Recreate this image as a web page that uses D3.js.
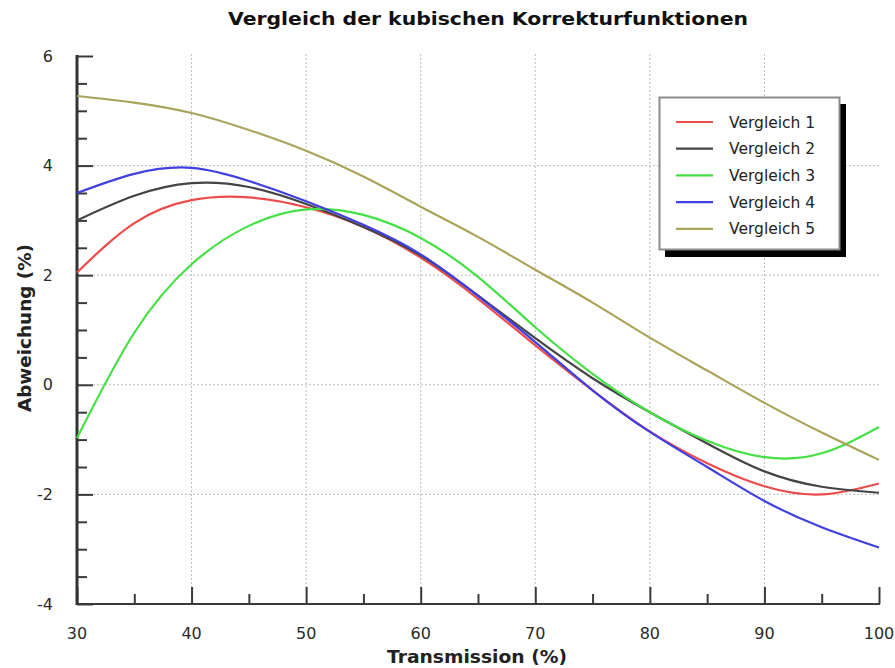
<!DOCTYPE html>
<html><head><meta charset="utf-8">
<script src="https://cdn.jsdelivr.net/npm/d3@7"></script>
<style>body{margin:0;background:#fff}svg{display:block}</style>
</head><body>
<svg id="c" width="895" height="668"></svg>
<script>
const xValues = [30, 35, 40, 45, 50, 55, 60, 65, 70, 75, 80, 85, 90, 95, 100];
const seriesNames = ["Vergleich 1", "Vergleich 2", "Vergleich 3", "Vergleich 4", "Vergleich 5"];
const seriesColors = ["#ec4c4c", "#444444", "#44e044", "#4040e0", "#aaa35a"];
const v1 = [2.05, 2.95, 3.37, 3.42, 3.24, 2.88, 2.32, 1.57, 0.72, -0.10, -0.85, -1.43, -1.85, -2.0, -1.8];
const v2 = [3.0, 3.45, 3.68, 3.61, 3.3, 2.88, 2.36, 1.63, 0.85, 0.12, -0.50, -1.07, -1.58, -1.86, -1.97];
const v3 = [-0.97, 0.95, 2.2, 2.9, 3.2, 3.1, 2.68, 1.97, 1.05, 0.2, -0.5, -1.02, -1.32, -1.25, -0.77];
const v4 = [3.5, 3.85, 3.96, 3.72, 3.35, 2.92, 2.38, 1.62, 0.78, -0.10, -0.86, -1.5, -2.12, -2.6, -2.97];
const v5 = [5.27, 5.15, 4.96, 4.65, 4.27, 3.8, 3.25, 2.7, 2.1, 1.5, 0.86, 0.26, -0.33, -0.87, -1.37];
const seriesValues = [v1, v2, v3, v4, v5];
const xTicks = [30, 40, 50, 60, 70, 80, 90, 100];
const yTicks = [-4, -2, 0, 2, 4, 6];
const titleText = "Vergleich der kubischen Korrekturfunktionen";
const xLabel = "Transmission (%)";
const yLabel = "Abweichung (%)";

const svg = d3.select("#c");
const L = 77, R = 879, T = 56, B = 604;
const x = d3.scaleLinear().domain([30, 100]).range([L, R]);
const y = d3.scaleLinear().domain([-4, 6]).range([B, T]);
const font = "Tahoma, 'DejaVu Sans', sans-serif";

// grid
svg.append("g").selectAll("line").data(xTicks.filter(d => d > 30 && d < 100)).join("line")
  .attr("x1", d => x(d)).attr("x2", d => x(d)).attr("y1", T - 2).attr("y2", B)
  .attr("stroke", "#bdbdbd").attr("stroke-width", 1).attr("stroke-dasharray", "2,2");
svg.append("g").selectAll("line").data(yTicks.filter(d => d > -4 && d < 6)).join("line")
  .attr("x1", L).attr("x2", R).attr("y1", d => y(d)).attr("y2", d => y(d))
  .attr("stroke", "#bdbdbd").attr("stroke-width", 1).attr("stroke-dasharray", "2,2");

// axes
const yMinor = d3.range(-4, 6.01, 0.5).filter(v => !yTicks.includes(v));
const xMinor = d3.range(30, 100.01, 5).filter(v => !xTicks.includes(v));
const yAxisMajor = d3.axisRight(y).tickValues(yTicks).tickSize(16).tickFormat("");
const yAxisMinor = d3.axisRight(y).tickValues(yMinor).tickSize(10).tickFormat("");
const xAxisMajor = d3.axisTop(x).tickValues(xTicks).tickSize(17).tickFormat("");
const xAxisMinor = d3.axisTop(x).tickValues(xMinor).tickSize(10).tickFormat("");
[ [yAxisMajor, `translate(${L},0)`], [yAxisMinor, `translate(${L},0)`],
  [xAxisMajor, `translate(0,${B})`], [xAxisMinor, `translate(0,${B})`] ].forEach(([ax, tr]) => {
  const g = svg.append("g").attr("transform", tr).call(ax);
  g.select(".domain").remove();
  g.selectAll("line").attr("stroke", "#3a3a3a").attr("stroke-width", 2);
});
svg.append("line").attr("x1", L).attr("x2", L).attr("y1", T - 1).attr("y2", B + 1)
  .attr("stroke", "#333").attr("stroke-width", 3);
svg.append("line").attr("x1", L).attr("x2", R + 1).attr("y1", B).attr("y2", B)
  .attr("stroke", "#3a3a3a").attr("stroke-width", 2);

// tick labels
svg.append("g").selectAll("text").data(xTicks).join("text")
  .attr("x", d => x(d)).attr("y", 639).attr("text-anchor", "middle")
  .attr("font-family", font).attr("font-size", 16).attr("fill", "#2a2a2a").text(d => d);
svg.append("g").selectAll("text").data(yTicks).join("text")
  .attr("x", 53).attr("y", d => y(d)).attr("dy", "0.35em").attr("text-anchor", "end")
  .attr("font-family", font).attr("font-size", 16).attr("fill", "#2a2a2a").text(d => d);

// lines
const line = d3.line().x((d, i) => x(xValues[i])).y(d => y(d)).curve(d3.curveNatural);
svg.append("g").selectAll("path").data(seriesValues).join("path")
  .attr("d", d => line(d)).attr("fill", "none")
  .attr("stroke", (d, i) => seriesColors[i]).attr("stroke-width", 2.2);

// title & labels
svg.append("text").attr("x", 488).attr("y", 25).attr("text-anchor", "middle")
  .attr("font-family", font).attr("font-weight", "bold").attr("font-size", 18)
  .attr("textLength", 520).attr("lengthAdjust", "spacingAndGlyphs")
  .attr("fill", "#111").text(titleText);
svg.append("text").attr("x", 477).attr("y", 663).attr("text-anchor", "middle")
  .attr("font-family", font).attr("font-weight", "bold").attr("font-size", 17)
  .attr("textLength", 180).attr("lengthAdjust", "spacingAndGlyphs")
  .attr("fill", "#222").text(xLabel);
svg.append("text").attr("transform", "translate(31,328) rotate(-90)").attr("text-anchor", "middle")
  .attr("font-family", font).attr("font-weight", "bold").attr("font-size", 17)
  .attr("textLength", 168).attr("lengthAdjust", "spacingAndGlyphs")
  .attr("fill", "#222").text(yLabel);

// legend
const lg = svg.append("g");
lg.append("rect").attr("x", 665).attr("y", 104).attr("width", 181).attr("height", 153).attr("fill", "#000");
lg.append("rect").attr("x", 659.5).attr("y", 97.5).attr("width", 180).attr("height", 152)
  .attr("fill", "#fff").attr("stroke", "#8a8a8a").attr("stroke-width", 2);
seriesNames.forEach((n, i) => {
  const yy = 122 + i * 26.7;
  lg.append("line").attr("x1", 676).attr("x2", 713).attr("y1", yy).attr("y2", yy)
    .attr("stroke", seriesColors[i]).attr("stroke-width", 2.2);
  lg.append("text").attr("x", 729).attr("y", yy + 5.5).attr("font-family", font)
    .attr("font-size", 15.5).attr("fill", "#222").text(n);
});
</script>
</body></html>
